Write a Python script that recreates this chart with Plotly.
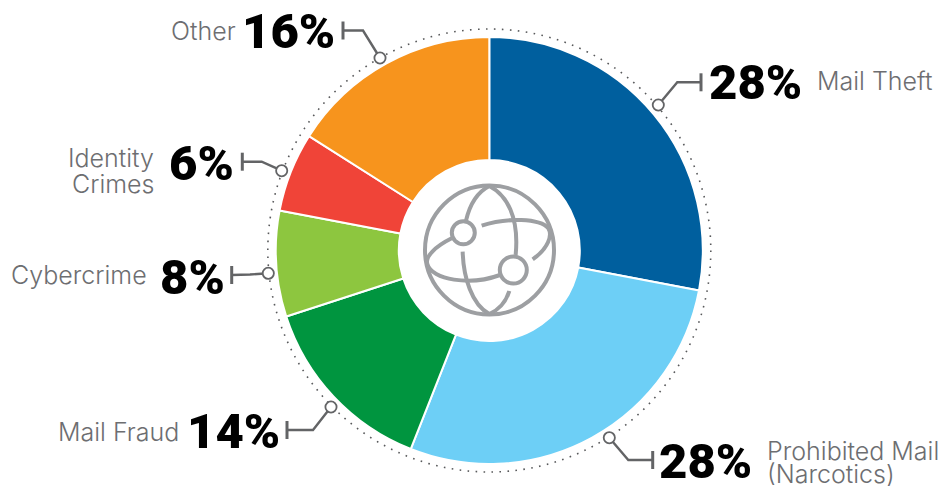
import plotly.graph_objects as go

WIDTH, HEIGHT = 947, 486

categories = ["Mail Theft", "Prohibited Mail (Narcotics)", "Mail Fraud", "Cybercrime", "Identity Crimes", "Other"]
shares = [28, 28, 14, 8, 6, 16]
slice_colors = ["#005f9e", "#6dcff6", "#00953f", "#8dc63f", "#f04438", "#f7941d"]
value_labels = ["28%", "28%", "14%", "8%", "6%", "16%"]

# Pie geometry in page pixels
CX, CY, R = 489.3, 250.5, 213.5
HOLE = 90.5 / R
DOT_R = 221.5

GREY = "#6d6e71"
LEADER = "#636466"
ICON = "#9d9fa2"

# Callouts: ring point, elbow, end of the capped leader
leaders = [
    ((658.3, 105), (677.3, 82.3), (701, 82.3)),
    ((609.3, 437.7), (628.3, 460), (652.7, 460)),
    ((331, 407), (313, 430), (287, 430)),
    ((268.3, 273.3), (250, 274.5), (231.7, 275)),
    ((281.7, 170.7), (261.7, 161.7), (242.3, 161.7)),
    ((380, 58), (363, 30.5), (343, 30.5)),
]
# Percentage text: anchor x, side, centre y
value_pos = [(708, "left", 82), (658, "left", 461), (281, "right", 431), (226, "right", 277), (235, "right", 163), (336, "right", 31)]
# Category text lines: anchor x, side, centre y, string
name_lines = [
    (816, "left", 81, "Mail Theft"),
    (766, "left", 451, "Prohibited Mail"),
    (766, "left", 474, "(Narcotics)"),
    (180, "right", 432, "Mail Fraud"),
    (148, "right", 275, "Cybercrime"),
    (155, "right", 158, "Identity"),
    (155, "right", 184, "Crimes"),
    (237, "right", 31, "Other"),
]


def circle(cx, cy, r, **line):
    return dict(type="circle", xref="x", yref="y", x0=cx - r, x1=cx + r, y0=cy - r, y1=cy + r, **line)


def icon_path(*cmds):
    # Icon outline is authored on a 3x grid whose origin sits at (400, 160)
    out = []
    for c in cmds:
        op, *pts = c
        out.append(op + " " + " ".join(f"{400 + x / 3:.2f},{160 + y / 3:.2f}" for x, y in pts))
    return " ".join(out)


icon_strokes = [
    icon_path(("M", (198, 182)), ("C", (210, 130), (235, 95), (268, 78))),
    icon_path(("M", (268, 78)), ("C", (320, 105), (358, 170), (347, 285))),
    icon_path(("M", (188, 275)), ("C", (190, 350), (215, 435), (268, 462))),
    icon_path(("M", (268, 462)), ("C", (295, 450), (318, 425), (328, 393))),
    icon_path(("M", (155, 235)), ("C", (105, 260), (75, 290), (82, 312)), ("C", (95, 360), (210, 378), (300, 345))),
    icon_path(("M", (245, 197)), ("C", (320, 172), (420, 175), (445, 205)), ("C", (458, 225), (445, 265), (398, 298))),
]

shapes = [circle(CX, CY, DOT_R, line=dict(color="#58595b", width=1.6, dash="1.6px,6.4px"))]
shapes.append(circle(489.5, 250, 64.5, line=dict(color=ICON, width=4)))
for p in icon_strokes:
    shapes.append(dict(type="path", xref="x", yref="y", path=p, line=dict(color=ICON, width=4)))
shapes.append(circle(463.3, 232.7, 11.5, line=dict(color=ICON, width=4), fillcolor="white"))
shapes.append(circle(513.3, 270, 13.5, line=dict(color=ICON, width=4), fillcolor="white"))

for ring, elbow, end in leaders:
    shapes.append(dict(type="path", xref="x", yref="y",
                       path=f"M {ring[0]},{ring[1]} L {elbow[0]},{elbow[1]} L {end[0]},{end[1]}",
                       line=dict(color=LEADER, width=2.4)))
    shapes.append(dict(type="line", xref="x", yref="y", x0=end[0], x1=end[0], y0=end[1] - 9, y1=end[1] + 9,
                       line=dict(color=LEADER, width=3)))
    shapes.append(circle(ring[0], ring[1], 5.6, line=dict(color=LEADER, width=1.8), fillcolor="white"))

annotations = []
for text, (x, side, y) in zip(value_labels, value_pos):
    annotations.append(dict(x=x, y=y, xref="x", yref="y", text=text, showarrow=False, xanchor=side, yanchor="middle",
                            borderpad=0, font=dict(family="Roboto", size=49, color="#000000", weight=900)))
for x, side, y, text in name_lines:
    annotations.append(dict(x=x, y=y, xref="x", yref="y", text=text, showarrow=False, xanchor=side, yanchor="middle",
                            borderpad=0, font=dict(family="Inter", size=25, color=GREY, weight=300)))

fig = go.Figure()
fig.add_trace(go.Pie(
    labels=categories, values=shares, sort=False, direction="clockwise", rotation=0,
    hole=HOLE, textinfo="none", hoverinfo="label+percent", showlegend=False,
    marker=dict(colors=slice_colors, line=dict(color="white", width=2)),
    domain=dict(x=[(CX - R) / WIDTH, (CX + R) / WIDTH], y=[1 - (CY + R) / HEIGHT, 1 - (CY - R) / HEIGHT]),
))
# Invisible trace that keeps the pixel-scaled axes alive for the overlay shapes
fig.add_trace(go.Scatter(x=[0, WIDTH], y=[0, HEIGHT], mode="markers", marker=dict(opacity=0), hoverinfo="skip", showlegend=False))
fig.update_layout(
    width=WIDTH, height=HEIGHT, margin=dict(l=0, r=0, t=0, b=0),
    paper_bgcolor="white", plot_bgcolor="rgba(0,0,0,0)",
    xaxis=dict(visible=False, range=[0, WIDTH], fixedrange=True),
    yaxis=dict(visible=False, range=[HEIGHT, 0], fixedrange=True),
    shapes=shapes, annotations=annotations,
)
fig.write_html("out.html", config=dict(displayModeBar=False))
